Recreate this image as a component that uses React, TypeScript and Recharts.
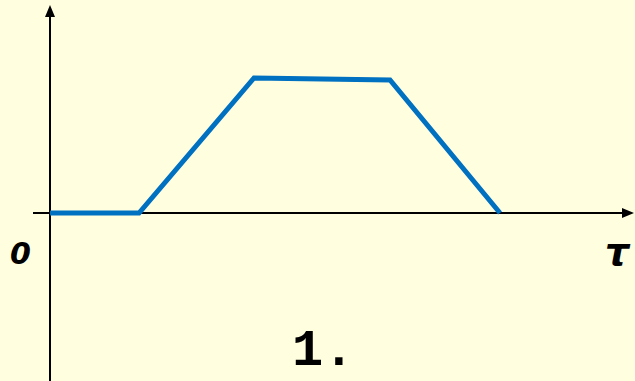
import React from "react";
import { LineChart, Line, XAxis, YAxis, ReferenceLine } from "recharts";

// trapezoid pulse, tau vs amplitude
const tau = [0, 8.9, 20.4, 34.0, 45.0];
const amplitude = [0, 0, 13.5, 13.3, 0];

const data = tau.map((t, i) => ({ t, v: amplitude[i] }));

const BG = "#FFFFE0";

// axis line with an arrow head at the (x2, y2) end
const ArrowAxis = (props: any) => {
  const { x1, y1, x2, y2 } = props;
  const dx = x2 - x1;
  const dy = y2 - y1;
  const len = Math.sqrt(dx * dx + dy * dy) || 1;
  const ux = dx / len;
  const uy = dy / len;
  const headLen = 12;
  const headW = 5;
  const bx = x2 - ux * headLen;
  const by = y2 - uy * headLen;
  const pts = [
    `${x2},${y2}`,
    `${bx - uy * headW},${by + ux * headW}`,
    `${bx + uy * headW},${by - ux * headW}`,
  ].join(" ");
  return (
    <g>
      <line x1={x1} y1={y1} x2={bx} y2={by} stroke="#000" strokeWidth={2} />
      <polygon points={pts} fill="#000" />
    </g>
  );
};

export default function App() {
  return (
    <div
      style={{
        position: "absolute",
        left: 0,
        top: 0,
        width: 635,
        height: 381,
        background: BG,
        overflow: "hidden",
      }}
    >
      <LineChart
        width={635}
        height={381}
        data={data}
        margin={{ top: 0, right: 0, bottom: 0, left: 0 }}
      >
        <XAxis type="number" dataKey="t" domain={[-5, 58.5]} hide />
        <YAxis type="number" domain={[-16.8, 21.3]} hide />
        <ReferenceLine
          segment={[
            { x: -1.7, y: 0 },
            { x: 58.4, y: 0 },
          ]}
          ifOverflow="visible"
          shape={ArrowAxis}
        />
        <ReferenceLine
          segment={[
            { x: 0, y: -16.8 },
            { x: 0, y: 20.8 },
          ]}
          ifOverflow="visible"
          shape={ArrowAxis}
        />
        <Line
          type="linear"
          dataKey="v"
          stroke="#0070C0"
          strokeWidth={5}
          dot={false}
          activeDot={false}
          isAnimationActive={false}
        />
      </LineChart>
      <div
        style={{
          position: "absolute",
          left: 10,
          top: 238,
          fontFamily: "'DejaVu Sans', sans-serif",
          fontWeight: "bold",
          fontStyle: "italic",
          fontSize: 30,
          lineHeight: "32px",
          color: "#000",
        }}
      >
        0
      </div>
      <div
        style={{
          position: "absolute",
          left: 605,
          top: 232,
          fontFamily: "'DejaVu Sans', sans-serif",
          fontWeight: "bold",
          fontStyle: "italic",
          fontSize: 38,
          lineHeight: "40px",
          color: "#000",
        }}
      >
        τ
      </div>
      <div
        style={{
          position: "absolute",
          left: 292,
          top: 324,
          fontFamily: "'Liberation Mono', monospace",
          fontWeight: "bold",
          fontSize: 52,
          lineHeight: "56px",
          color: "#000",
        }}
      >
        1.
      </div>
    </div>
  );
}
